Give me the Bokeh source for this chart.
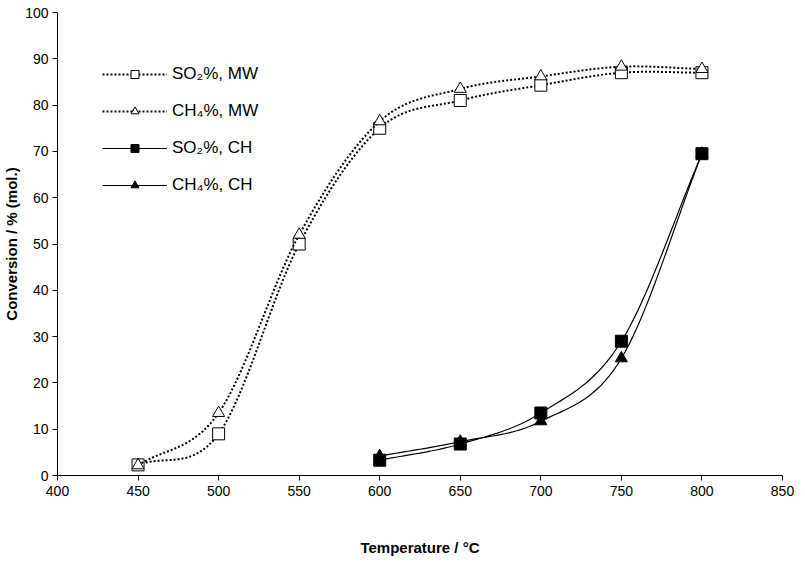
import numpy as np
from bokeh.plotting import figure
from bokeh.embed import file_html
from bokeh.resources import INLINE
from bokeh.models import Legend, LegendItem

temp_mw = [450, 500, 550, 600, 650, 700, 750, 800]
so2_mw = [2.3, 9.0, 50.0, 75.0, 81.0, 84.3, 87.0, 87.0]
ch4_mw = [2.2, 13.5, 52.0, 76.5, 83.5, 86.2, 88.3, 87.8]
temp_ch = [600, 650, 700, 750, 800]
so2_ch = [3.3, 6.8, 13.5, 29.0, 69.5]
ch4_ch = [4.2, 7.3, 11.7, 25.3, 69.5]


def smooth(xs, ys, n=20):
    # Catmull-Rom, like Excel's smoothed line
    x = np.array(xs, float); y = np.array(ys, float)
    px = np.concatenate([[2 * x[0] - x[1]], x, [2 * x[-1] - x[-2]]])
    py = np.concatenate([[2 * y[0] - y[1]], y, [2 * y[-1] - y[-2]]])
    ox, oy = [], []
    t = np.linspace(0, 1, n, endpoint=False)
    for i in range(1, len(px) - 2):
        for P, out in ((px, ox), (py, oy)):
            p0, p1, p2, p3 = P[i - 1], P[i], P[i + 1], P[i + 2]
            out.extend(0.5 * (2 * p1 + (-p0 + p2) * t + (2 * p0 - 5 * p1 + 4 * p2 - p3) * t ** 2
                              + (-p0 + 3 * p1 - 3 * p2 + p3) * t ** 3))
    ox.append(x[-1]); oy.append(y[-1])
    return ox, oy


p = figure(width=797, height=558, x_range=(400, 850), y_range=(0, 100),
           output_backend="svg", toolbar_location=None,
           x_axis_label="Temperature / °C", y_axis_label="Conversion / % (mol.)")
p.xgrid.visible = False
p.ygrid.visible = False
p.outline_line_color = None
p.min_border_left = 30
p.min_border_right = 15
p.min_border_top = 12
p.min_border_bottom = 5
for ax in (p.xaxis, p.yaxis):
    ax.axis_label_text_font = "Liberation Sans"
    ax.axis_label_text_font_style = "bold"
    ax.axis_label_text_font_size = "15px"
    ax.axis_label_text_color = "black"
    ax.major_label_text_font = "Liberation Sans"
    ax.major_label_text_font_size = "14px"
    ax.major_label_text_color = "black"
    ax.minor_tick_line_color = None
    ax.major_tick_in = 0
    ax.major_tick_out = 5
    ax.axis_line_color = "black"
    ax.major_tick_line_color = "black"
p.xaxis.ticker = list(range(400, 851, 50))
p.yaxis.ticker = list(range(0, 101, 10))
p.xaxis.axis_label_standoff = 40
p.yaxis.axis_label_standoff = 2
p.yaxis.major_label_standoff = 4

items = []
for xs, ys, marker, fill, dash, label in [
    (temp_mw, so2_mw, "square", "white", "2 2", "SO₂%, MW"),
    (temp_mw, ch4_mw, "triangle", "white", "2 2", "CH₄%, MW"),
    (temp_ch, so2_ch, "square", "black", "solid", "SO₂%, CH"),
    (temp_ch, ch4_ch, "triangle", "black", "solid", "CH₄%, CH"),
]:
    sx, sy = smooth(xs, ys)
    lw = 2 if dash != "solid" else 1.2
    l = p.line(sx, sy, line_color="black", line_width=lw, line_dash=dash)
    s = p.scatter(xs, ys, marker=marker, size=12, fill_color=fill, line_color="black")
    items.append(LegendItem(label=label, renderers=[l, s]))

leg = Legend(items=items, location=(45, 280), border_line_color=None,
             background_fill_alpha=0, label_text_font="Liberation Sans",
             label_text_font_size="17px", label_text_color="black",
             glyph_width=65, glyph_height=20, spacing=17, label_standoff=5)
p.add_layout(leg, "center")

open("out.html", "w").write(file_html(p, INLINE))
